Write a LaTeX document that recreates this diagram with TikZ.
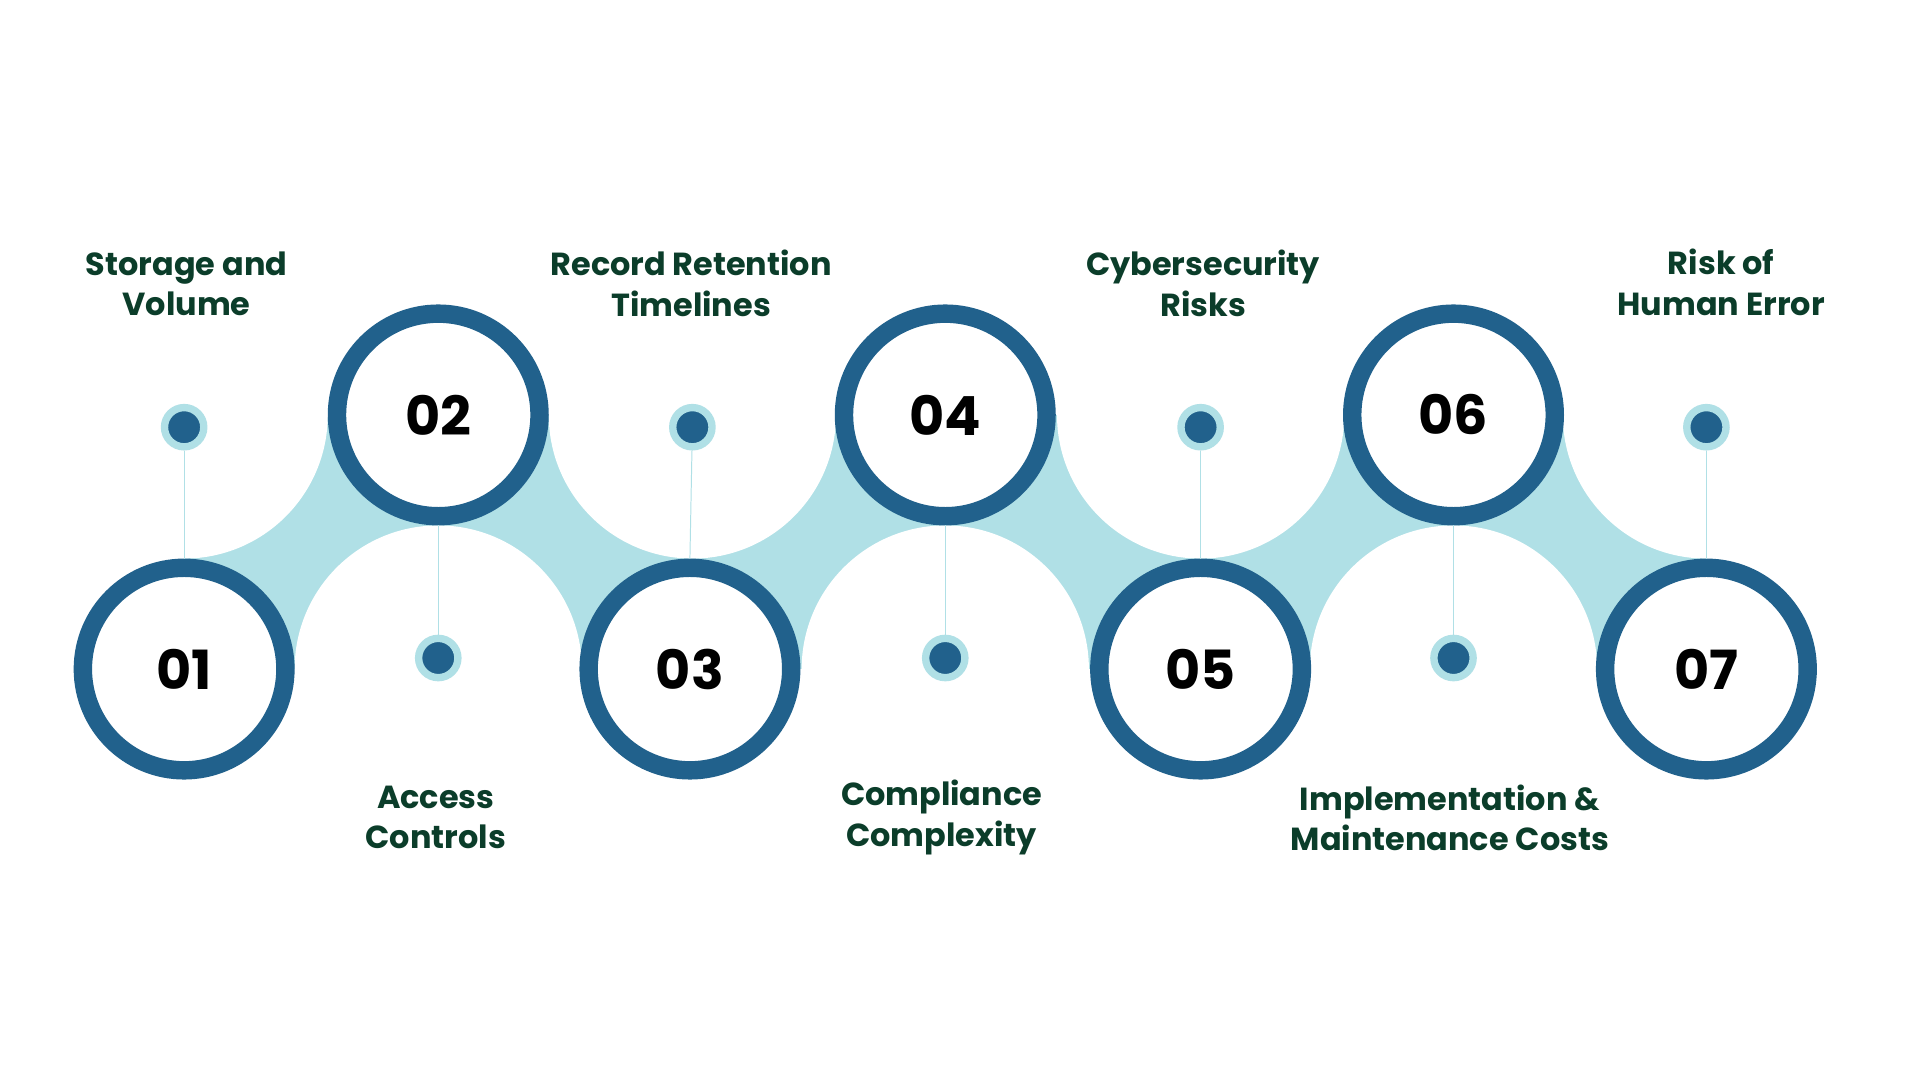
\documentclass[tikz,border=0pt]{standalone}
\usepackage{fontspec}
\setmainfont{Poppins}
\definecolor{ring}{HTML}{21618C}
\definecolor{light}{HTML}{B0E0E6}
\definecolor{txt}{HTML}{0B3D2A}
\begin{document}
\begin{tikzpicture}[x=1pt,y=-1pt,
  ringc/.style={circle,draw=ring,line width=15pt,fill=white,minimum size=165pt,inner sep=0pt,font=\fontsize{44}{44}\selectfont\bfseries,text=black},
  dotc/.style={circle,fill=ring,draw=light,line width=6pt,minimum size=32pt,inner sep=0pt},
  lbl/.style={align=center,text=txt,font=\fontsize{26}{33}\selectfont\bfseries},
  stem/.style={draw=light,line width=0.8pt}]
\useasboundingbox (0,0) rectangle (1564,880);
\fill[white] (0,0) rectangle (1564,880);
\fill[light] (150,338) rectangle (1390,545);
\foreach \x in {150,564,978,1390} \fill[white] (\x,338) circle (117);
\foreach \x in {357,770,1184} \fill[white] (\x,545) circle (117);
\node[ringc] (c1) at (150,545) {01};
\node[ringc] (c2) at (357,338) {02};
\node[ringc] (c3) at (562,545) {03};
\node[ringc] (c4) at (770,338) {04};
\node[ringc] (c5) at (978,545) {05};
\node[ringc] (c6) at (1184,338) {06};
\node[ringc] (c7) at (1390,545) {07};
\node[dotc] (d1) at (150,348) {};
\node[dotc] (d2) at (357,536) {};
\node[dotc] (d3) at (564,348) {};
\node[dotc] (d4) at (770,536) {};
\node[dotc] (d5) at (978,348) {};
\node[dotc] (d6) at (1184,536) {};
\node[dotc] (d7) at (1390,348) {};
\draw[stem] (d1) -- (c1.north);
\draw[stem] (d3) -- (c3.north);
\draw[stem] (d5) -- (c5.north);
\draw[stem] (d7) -- (c7.north);
\draw[stem] (d2) -- (c2.south);
\draw[stem] (d4) -- (c4.south);
\draw[stem] (d6) -- (c6.south);
\node[lbl] (t1) at (152,231) {Storage and\\Volume};
\node[lbl] (t3) at (563,231) {Record Retention\\Timelines};
\node[lbl] (t5) at (980,231) {Cybersecurity\\Risks};
\node[lbl] (t7) at (1402,230) {Risk of\\Human Error};
\node[lbl] (t2) at (355,666) {Access\\Controls};
\node[lbl] (t4) at (767,666) {Compliance\\Complexity};
\node[lbl] (t6) at (1181,666) {Implementation \&\\Maintenance Costs};
\end{tikzpicture}
\end{document}
